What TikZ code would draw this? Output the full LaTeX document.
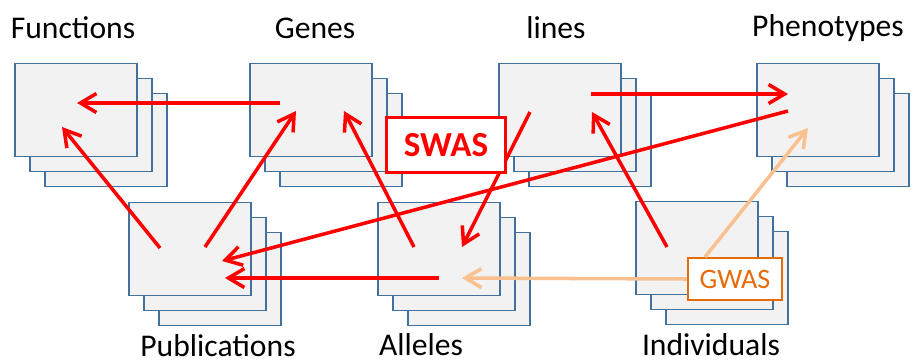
\documentclass[tikz,border=0pt]{standalone}
\usepackage{fontspec}
\setmainfont{Carlito}
\usepackage{tikz}
\usetikzlibrary{arrows.meta,positioning}
\definecolor{StackBlue}{HTML}{41719C}
\definecolor{StackGrey}{HTML}{F2F2F2}
\definecolor{LinkRed}{HTML}{FF0000}
\definecolor{LinkPeach}{HTML}{FAC090}
\definecolor{LinkOrange}{HTML}{E46C0A}

\begin{document}
\begin{tikzpicture}[
  x=0.02cm, y=-0.02cm,
  card/.style={draw=StackBlue, fill=StackGrey, line width=1.1pt, minimum width=2.44cm, minimum height=1.86cm, inner sep=0pt},
  title/.style={font=\fontsize{18}{21}\selectfont, inner sep=0pt},
  arrow/.style={-{Straight Barb[length=3.2mm,width=3.8mm]}, line width=2pt, color=LinkRed},
  soft/.style={-{Straight Barb[length=3.2mm,width=3.8mm]}, line width=2pt, color=LinkPeach},
  tag/.style={draw=#1, fill=white, line width=1.2pt, text=#1, inner sep=0pt}
]
\useasboundingbox (0,0) rectangle (915,363);

% top row
\node[card] (functions3) at (106,140) {};
\node[card] (functions2) at (91,125) {};
\node[card] (functions) at (76,110) {};
\node[card] (genes3) at (341,140) {};
\node[card] (genes2) at (326,125) {};
\node[card] (genes) at (311,110) {};
\node[card] (lines3) at (590,140) {};
\node[card] (lines2) at (575,125) {};
\node[card] (lines) at (560,110) {};
\node[card] (phenotypes3) at (848,140) {};
\node[card] (phenotypes2) at (833,125) {};
\node[card] (phenotypes) at (818,110) {};

% bottom row
\node[card] (publications3) at (220,279) {};
\node[card] (publications2) at (205,264) {};
\node[card] (publications) at (190,249) {};
\node[card] (alleles3) at (469,279) {};
\node[card] (alleles2) at (454,264) {};
\node[card] (alleles) at (439,249) {};
\node[card] (individuals3) at (727,278) {};
\node[card] (individuals2) at (712,263) {};
\node[card] (individuals) at (697,248) {};

\node[title] (functionsLabel) at (73,28) {Functions};
\node[title] (genesLabel) at (315,28) {Genes};
\node[title] (linesLabel) at (556,28) {lines};
\node[title] (phenotypesLabel) at (828,28) {Phenotypes};
\node[title] (publicationsLabel) at (218,346) {Publications};
\node[title] (allelesLabel) at (421,345) {Alleles};
\node[title] (individualsLabel) at (711,345) {Individuals};

\draw[arrow] ([shift={(-31,-7)}]genes.center) -- ([shift={(1,-7)}]functions.center);
\draw[arrow] ([shift={(-30,-1)}]publications.center) -- ([shift={(-14,17)}]functions.center);
\draw[arrow] ([shift={(15,-2)}]publications.center) -- ([shift={(-15,1)}]genes.center);
\draw[arrow] ([shift={(-25,-2)}]alleles.center) -- ([shift={(33,1)}]genes.center);
\draw[arrow] ([shift={(-30,2)}]lines.center) -- ([shift={(23,-2)}]alleles.center);
\draw[arrow] ([shift={(31,-16)}]lines.center) -- ([shift={(-30,-16)}]phenotypes.center);
\draw[arrow] ([shift={(-30,1)}]phenotypes.center) -- ([shift={(32,12)}]publications.center);
\draw[arrow] ([shift={(0,29)}]alleles.center) -- ([shift={(35,29)}]publications.center);
\draw[arrow] ([shift={(-30,-1)}]individuals.center) -- ([shift={(32,2)}]lines.center);

\node[tag=LinkOrange, minimum width=1.88cm, minimum height=0.84cm, font=\fontsize{16}{19}\selectfont] (gwas) at (735,279) {GWAS};
\draw[soft] (gwas.west) -- ([shift={(23,29)}]alleles.center);
\draw[soft] ([shift={(-30,0)}]gwas.north) -- ([shift={(-10,18)}]phenotypes.center);

\node[tag=LinkRed, minimum width=2.38cm, minimum height=1.1cm, font=\fontsize{20}{24}\selectfont\bfseries] (swas) at (446,145) {SWAS};
\end{tikzpicture}
\end{document}
